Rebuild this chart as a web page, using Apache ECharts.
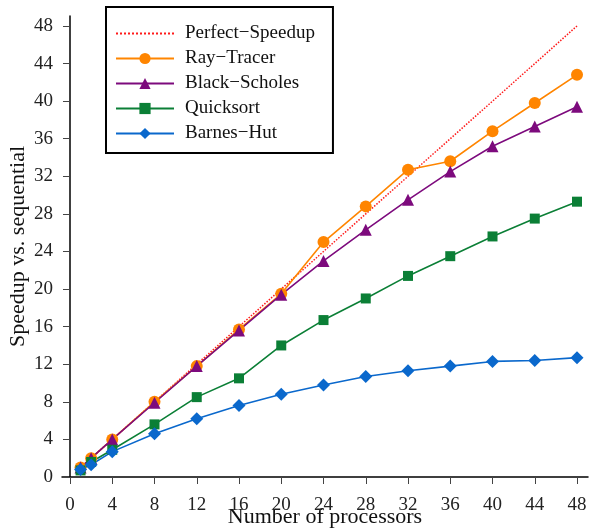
<!DOCTYPE html>
<html>
<head>
    <meta charset="utf-8">
    <title>Speedup</title>
    <script src="https://cdn.jsdelivr.net/npm/echarts@6/dist/echarts.min.js"></script>
    <style>
        html, body { margin: 0; padding: 0; background: #fff; }
    </style>
</head>
<body>
    <div id="main" style="width: 589px;height:529px;"></div>
    <script type="text/javascript">
        // number of processors
        var procs = [1, 2, 4, 8, 12, 16, 20, 24, 28, 32, 36, 40, 44, 48];
        var perfectSpeedup = [1, 2, 4, 8, 12, 16, 20, 24, 28, 32, 36, 40, 44, 48];
        var rayTracer = [1.0, 2.0, 4.0, 8.0, 11.8, 15.7, 19.5, 25.0, 28.8, 32.7, 33.6, 36.8, 39.8, 42.8];
        var blackScholes = [1.0, 2.0, 4.0, 7.9, 11.8, 15.6, 19.4, 23.0, 26.3, 29.5, 32.5, 35.2, 37.3, 39.4];
        var quicksort = [0.7, 1.6, 2.9, 5.6, 8.5, 10.5, 14.0, 16.7, 19.0, 21.4, 23.5, 25.6, 27.5, 29.3];
        var barnesHut = [0.8, 1.3, 2.7, 4.6, 6.2, 7.6, 8.8, 9.8, 10.7, 11.3, 11.8, 12.3, 12.4, 12.7];
        var tickValues = [0, 4, 8, 12, 16, 20, 24, 28, 32, 36, 40, 44, 48];

        function pairs(ys) {
            return procs.map(function (p, i) { return [p, ys[i]]; });
        }

        var font = '"Liberation Serif", "Times New Roman", serif';
        var myChart = echarts.init(document.getElementById('main'));
        var option = {
            animation: false,
            backgroundColor: '#fff',
            textStyle: { fontFamily: font, color: '#000' },
            grid: { left: 62, right: 1, top: 16, bottom: 52, outerBoundsMode: 'none', containLabel: false },
            legend: {
                left: 106,
                top: 7,
                orient: 'vertical',
                backgroundColor: '#fff',
                borderColor: '#000',
                borderWidth: 2,
                borderRadius: 0,
                padding: [17, 18, 10, 9],
                itemWidth: 58,
                itemHeight: 14,
                itemGap: 6,
                textStyle: { fontFamily: font, fontSize: 19, color: '#111', lineHeight: 19, padding: [0, 0, 0, 6] },
                data: ['Perfect\u2212Speedup', 'Ray\u2212Tracer', 'Black\u2212Scholes', 'Quicksort', 'Barnes\u2212Hut']
            },
            xAxis: {
                type: 'value',
                min: -0.757,
                max: 49.04,
                name: 'Number of processors',
                nameLocation: 'middle',
                nameGap: 29,
                nameMoveOverlap: false,
                nameTextStyle: { fontFamily: font, fontSize: 22, color: '#111' },
                splitLine: { show: false },
                axisLine: { lineStyle: { color: '#000', width: 1.5 } },
                axisTick: { customValues: tickValues, length: 7, lineStyle: { color: '#444' } },
                axisLabel: { customValues: tickValues, margin: 19, fontFamily: font, fontSize: 19, color: '#222' }
            },
            yAxis: {
                type: 'value',
                min: 0,
                max: 49.06,
                name: 'Speedup vs. sequential',
                nameLocation: 'middle',
                nameGap: 33,
                nameMoveOverlap: false,
                nameTextStyle: { fontFamily: font, fontSize: 22, color: '#111' },
                splitLine: { show: false },
                axisLine: { onZero: true, lineStyle: { color: '#000', width: 1.5 } },
                axisTick: { customValues: tickValues, length: 7, lineStyle: { color: '#444' } },
                axisLabel: { customValues: tickValues, margin: 9, fontFamily: font, fontSize: 19, color: '#222' }
            },
            series: [
                {
                    name: 'Perfect\u2212Speedup',
                    type: 'line',
                    symbol: 'none',
                    color: '#ff1a1a',
                    itemStyle: { opacity: 0 },
                    lineStyle: { color: '#ff1a1a', width: 1.5, type: 'dotted' },
                    data: pairs(perfectSpeedup)
                },
                {
                    name: 'Ray\u2212Tracer',
                    type: 'line',
                    symbol: 'circle',
                    symbolSize: 12,
                    color: '#ff8500',
                    lineStyle: { width: 1.6 },
                    data: pairs(rayTracer)
                },
                {
                    name: 'Black\u2212Scholes',
                    type: 'line',
                    symbol: 'triangle',
                    symbolSize: 12,
                    color: '#7d0a7d',
                    lineStyle: { width: 1.6 },
                    data: pairs(blackScholes)
                },
                {
                    name: 'Quicksort',
                    type: 'line',
                    symbol: 'rect',
                    symbolSize: 10,
                    color: '#0b7f36',
                    lineStyle: { width: 1.6 },
                    data: pairs(quicksort)
                },
                {
                    name: 'Barnes\u2212Hut',
                    type: 'line',
                    symbol: 'diamond',
                    symbolSize: 13,
                    color: '#0a68cc',
                    lineStyle: { width: 1.6 },
                    data: pairs(barnesHut)
                }
            ]
        };
        myChart.setOption(option);
    </script>
</body>
</html>
